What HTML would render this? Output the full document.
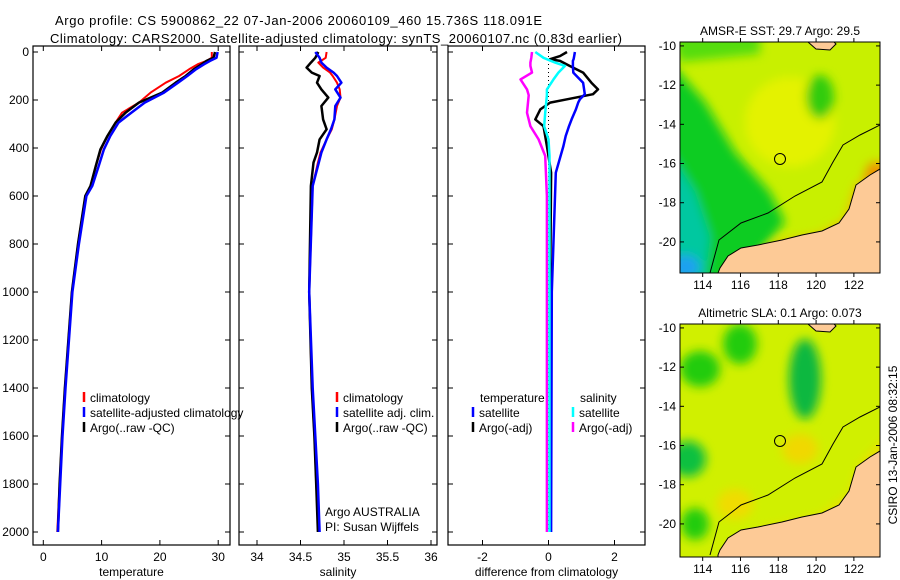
<!DOCTYPE html>
<html><head><meta charset="utf-8"><style>
html,body{margin:0;padding:0;background:#fff;}
svg{display:block;font-family:"Liberation Sans",sans-serif;}
text{font-size:12px;fill:#000;}
</style></head><body>
<svg id="fig" width="900" height="580" viewBox="0 0 900 580">
<defs>
<filter id="blur" x="-20%" y="-20%" width="140%" height="140%"><feGaussianBlur stdDeviation="5"/></filter>
<clipPath id="clip1"><rect x="680" y="42" width="200" height="231"/></clipPath>
<clipPath id="clip2"><rect x="680" y="324" width="200" height="233"/></clipPath>
</defs>
<text x="55" y="25" style="font-size:13px" textLength="487">Argo profile: CS 5900862_22 07-Jan-2006 20060109_460 15.736S 118.091E</text>
<text x="50" y="43" style="font-size:13px" textLength="572">Climatology: CARS2000. Satellite-adjusted climatology: synTS_20060107.nc (0.83d earlier)</text>
<g id="p1"></g>
<g id="p2"></g>
<g id="p3"></g>
<g id="m1"></g>
<g id="m2"></g>
<text transform="translate(897,445) rotate(-90)" text-anchor="middle">CSIRO 13-Jan-2006 08:32:15</text>
</svg>
<script>
// ---- data ----
const tDepthArgo=[0,24,37,51,72,100,128,169,211,253,294,350,406,475,558,600,800,1000,1400,1600,1800,2000];
const tArgo=[29.45,29.2,28.0,27.2,25.8,24.4,22.7,20.4,16.4,14.1,12.4,11.0,9.8,9.0,8.1,7.2,5.95,4.9,3.7,3.2,2.8,2.5];
const tClim=[28.9,28.9,28.0,26.5,25.0,23.3,21.0,18.4,16.4,13.5,12.4,11.0,9.9,9.0,8.1,7.2,5.95,4.9,3.7,3.2,2.8,2.4];
const tSat=[29.9,29.7,28.6,27.6,26.2,24.7,23.1,20.7,17.4,15.1,12.9,11.5,10.4,9.5,8.4,7.4,6.1,5.0,3.8,3.3,2.9,2.5];
const sDepth=[0,24,44,65,86,100,128,156,190,225,281,322,364,419,461,558,1000,1400,1600,1800,2000];
const sArgo=[34.705,34.67,34.62,34.57,34.63,34.72,34.69,34.74,34.82,34.74,34.76,34.8,34.72,34.69,34.65,34.62,34.6,34.63,34.66,34.68,34.7];
const sClim=[34.8,34.79,34.705,34.76,34.84,34.87,34.92,34.95,34.96,34.92,34.89,34.86,34.8,34.73,34.7,34.64,34.6,34.63,34.66,34.68,34.71];
const sSat=[34.67,34.72,34.74,34.8,34.88,34.92,34.97,34.9,34.96,34.9,34.89,34.85,34.8,34.74,34.71,34.64,34.6,34.64,34.67,34.7,34.72];
const dDepthT=[0,17,30,37,58,86,128,156,176,197,211,239,281,309,350,392,503,1000,2000];
const dArgoT=[0.56,0.35,0.05,0.35,0.64,1.05,1.3,1.5,1.35,0.56,0.05,-0.25,-0.4,-0.15,-0.1,-0.05,0.08,0.05,0.06];
const dSatT=[0.8,0.78,0.76,0.74,0.74,0.75,1.05,1.08,1.1,0.95,0.9,0.83,0.7,0.62,0.52,0.45,0.22,0.1,0.08];
const dDepthS=[0,24,44,58,86,114,156,180,253,309,364,433,600,2000];
const dSatS=[-0.4,-0.15,0.2,0.5,0.3,0.15,-0.05,-0.05,-0.1,-0.13,0,0.03,0.03,0.03];
const dArgoS=[-0.5,-0.52,-0.55,-0.55,-0.5,-0.85,-0.65,-0.6,-0.65,-0.55,-0.3,-0.1,-0.05,-0.05];
const depthTicks=[0,200,400,600,800,1000,1200,1400,1600,1800,2000];
const tTicks=[0,10,20,30];
const sTicks=[34,34.5,35,35.5,36];
const dTicks=[-2,0,2];
const latTicks=[-10,-12,-14,-16,-18,-20];
const lonTicks=[114,116,118,120,122];

const NS='http://www.w3.org/2000/svg';
function mk(parent,tag,attrs,txt){const e=document.createElementNS(NS,tag);for(const k in attrs)e.setAttribute(k,attrs[k]);if(txt!==undefined)e.textContent=txt;parent.appendChild(e);return e;}
const yD=d=>52+d*0.24;

function panel(gid,x0,x1,xs,ticks,fmt,label,leftLabels){
  const g=document.getElementById(gid);
  const r=mk(g,'rect',{x:x0,y:46,width:x1-x0,height:499,fill:'none',stroke:'#000','stroke-width':1.2});
  
  
  ticks.forEach(v=>{const x=xs(v);
    mk(g,'line',{x1:x,x2:x,y1:545,y2:540,stroke:'#000'});
    mk(g,'line',{x1:x,x2:x,y1:46,y2:51,stroke:'#000'});
    const t=mk(g,'text',{x:x,y:561,'text-anchor':'middle'},fmt(v));
    
    
  });
  const xl=mk(g,'text',{x:(x0+x1)/2,y:576,'text-anchor':'middle'},label);
  
  
  depthTicks.forEach(d=>{const y=yD(d);
    mk(g,'line',{x1:x0,x2:x0+5,y1:y,y2:y,stroke:'#000'});
    mk(g,'line',{x1:x1,x2:x1-5,y1:y,y2:y,stroke:'#000'});
    if(leftLabels){const t=mk(g,'text',{x:x0-4,y:y+4,'text-anchor':'end'},String(d));
      
      }
  });
  return g;
}
function line(g,xs,depths,vals,color,w,name){
  const pts=depths.map((d,i)=>xs(vals[i]).toFixed(1)+','+yD(d).toFixed(1)).join(' ');
  const p=mk(g,'polyline',{points:pts,fill:'none',stroke:color,'stroke-width':w,'stroke-linejoin':'round'});
  
  
}
function legend(g,x,y,items){
  items.forEach((it,i)=>{const yy=y+i*15;
    mk(g,'line',{x1:x,x2:x,y1:yy-6,y2:yy+4,stroke:it[1],'stroke-width':2.5});
    const t=mk(g,'text',{x:x+6,y:yy+4},it[0]);
    
    
  });
}
// temperature
const xT=v=>43.3+v*5.83;
const g1=panel('p1',33,230,xT,tTicks,String,'temperature',true);
line(g1,xT,tDepthArgo,tClim,'#f00',2,'climatology-temp-line');
line(g1,xT,tDepthArgo,tArgo,'#000',2.5,'argo-temp-line');
line(g1,xT,tDepthArgo,tSat,'#00f',2.5,'satellite-temp-line');
legend(g1,84,398,[['climatology','#f00'],['satellite-adjusted climatology','#00f'],['Argo(..raw -QC)','#000']]);
// salinity
const xS=v=>257+(v-34)*87;
const g2=panel('p2',239,437,xS,sTicks,String,'salinity',false);
line(g2,xS,sDepth,sClim,'#f00',2,'climatology-salinity-line');
line(g2,xS,sDepth,sArgo,'#000',2.5,'argo-salinity-line');
line(g2,xS,sDepth,sSat,'#00f',2.5,'satellite-salinity-line');
legend(g2,337,398,[['climatology','#f00'],['satellite adj. clim.','#00f'],['Argo(..raw -QC)','#000']]);
const a1=mk(g2,'text',{x:325,y:516},'Argo AUSTRALIA');
const a2=mk(g2,'text',{x:325,y:531},'PI: Susan Wijffels');
// difference
const xDf=v=>548.5+v*33;
const g3=panel('p3',448,645,xDf,dTicks,String,'difference from climatology',false);
mk(g3,'line',{x1:xDf(0),x2:xDf(0),y1:52,y2:532,stroke:'#000','stroke-dasharray':'1,3'});
line(g3,xDf,dDepthS,dArgoS,'#f0f',2.5,'argo-salinity-diff-line');
line(g3,xDf,dDepthT,dArgoT,'#000',2.5,'argo-temp-diff-line');
line(g3,xDf,dDepthT,dSatT,'#00f',2.5,'satellite-temp-diff-line');
line(g3,xDf,dDepthS,dSatS,'#0ff',2.5,'satellite-salinity-diff-line');
const lt=mk(g3,'text',{x:480,y:402},'temperature');
const ls=mk(g3,'text',{x:580,y:402},'salinity');
legend(g3,473,413,[['satellite','#00f'],['Argo(-adj)','#000']]);
legend(g3,573,413,[['satellite','#0ff'],['Argo(-adj)','#f0f']]);

// maps
const land=[[38,231],[40,226],[48,214],[61,206],[78,203],[102,198],[122,193],[142,189],[159,181],[169,167],[176,143],[190,133],[200,127],[200,233],[38,233]];
const contour=[[30,231],[39,198],[61,181],[88,171],[115,154],[142,140],[153,120],[163,103],[180,93],[200,83]];
function map(gid,top,h,clip,title,blobs,base){
  const g=document.getElementById(gid);const L=680;
  const pts=a=>a.map(p=>(L+p[0])+','+(top+p[1])).join(' ');
  const c=mk(g,'g',{'clip-path':'url(#'+clip+')'});
  mk(c,'rect',{x:L,y:top,width:200,height:h,fill:base});
  const bg=mk(c,'g',{filter:'url(#blur)'});
  blobs.forEach(b=>{
    if(b[0]==='e')mk(bg,'ellipse',{cx:L+b[1],cy:top+b[2],rx:b[3],ry:b[4],fill:b[5]});
    else mk(bg,'polygon',{points:pts(b[1]),fill:b[2]});
  });
  mk(c,'polygon',{points:pts(land),fill:'#fdca96',stroke:'#000','stroke-width':1});
  mk(c,'polygon',{points:pts([[128,0],[136,7],[150,8],[156,2],[152,-2]]),fill:'#fdca96',stroke:'#000'});
  mk(c,'polyline',{points:pts(contour),fill:'none',stroke:'#000','stroke-width':1});
  const circ=mk(g,'circle',{cx:L+100,cy:top+117,r:5.5,fill:'none',stroke:'#000'});
  
  
  mk(g,'rect',{x:L,y:top,width:200,height:h,fill:'none',stroke:'#000'});
  const tt=mk(g,'text',{x:L+100,y:top-7,'text-anchor':'middle'},title);
  
  
  latTicks.forEach(v=>{const y=top+(-9.8-v)*19.6;
    mk(g,'line',{x1:L,x2:L+4,y1:y,y2:y,stroke:'#000'});mk(g,'line',{x1:L+200,x2:L+196,y1:y,y2:y,stroke:'#000'});
    const t=mk(g,'text',{x:L-4,y:y+4,'text-anchor':'end'},String(v));
    
    });
  lonTicks.forEach(v=>{const x=L+(v-112.8)*18.9;
    mk(g,'line',{x1:x,x2:x,y1:top+h,y2:top+h+4,stroke:'#000'});mk(g,'line',{x1:x,x2:x,y1:top,y2:top-4,stroke:'#000'});
    const t=mk(g,'text',{x:x,y:top+h+16,'text-anchor':'middle'},String(v));
    
    });
}
map('m1',42,231,'clip1','AMSR-E SST: 29.7 Argo: 29.5',[
  ['e',110,80,45,45,'#e4f200'],
  ['p',[[-10,-10],[80,-10],[80,12],[0,20]],'#55dd11'],
  ['p',[[-10,20],[25,60],[55,110],[90,150],[105,180],[80,210],[40,240],[-10,240]],'#11cc22'],
  ['p',[[-10,110],[15,150],[30,195],[25,240],[-10,240]],'#00c8a0'],
  ['e',5,225,15,12,'#1aa0f0'],
  ['e',140,55,14,22,'#33cc11'],
  ['p',[[60,230],[100,200],[140,192],[165,178],[175,145],[200,120],[210,120],[210,240],[60,240]],'#f5b800'],
  ['e',195,135,10,15,'#f09000']
],'#c8f000');
map('m2',324,233,'clip2','Altimetric SLA: 0.1 Argo: 0.073',[
  ['e',125,55,16,40,'#10b840'],
  ['e',20,45,20,18,'#22cc11'],
  ['e',60,20,17,20,'#22cc11'],
  ['e',8,135,18,18,'#10c040'],
  ['e',15,200,14,16,'#22cc11'],
  ['e',120,125,18,15,'#f0d800'],
  ['e',55,180,18,15,'#f0dc00'],
  ['p',[[80,205],[140,192],[170,170],[180,140],[210,110],[210,240],[80,240]],'#eedd00']
],'#d0f000');
</script>
</body></html>
